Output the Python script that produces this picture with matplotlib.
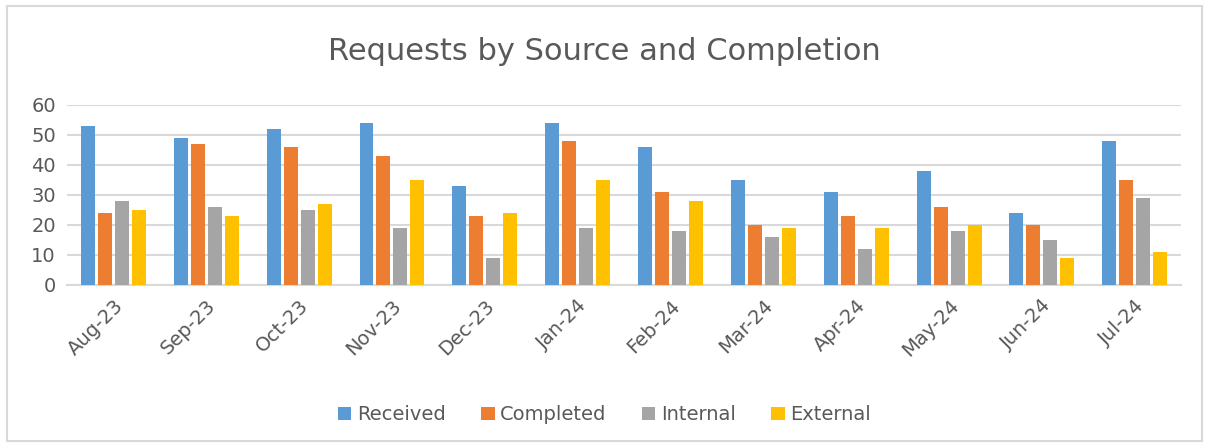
import numpy as np
import matplotlib.pyplot as plt
from matplotlib.patches import Rectangle

# Monthly request counts
months = ["Aug-23", "Sep-23", "Oct-23", "Nov-23", "Dec-23", "Jan-24",
          "Feb-24", "Mar-24", "Apr-24", "May-24", "Jun-24", "Jul-24"]
received = [53, 49, 52, 54, 33, 54, 46, 35, 31, 38, 24, 48]
completed = [24, 47, 46, 43, 23, 48, 31, 20, 23, 26, 20, 35]
internal = [28, 26, 25, 19, 9, 19, 18, 16, 12, 18, 15, 29]
external = [25, 23, 27, 35, 24, 35, 28, 19, 19, 20, 9, 11]

series = [("Received", received, "#5b9bd5"),
          ("Completed", completed, "#ed7d31"),
          ("Internal", internal, "#a5a5a5"),
          ("External", external, "#ffc000")]

text_color = "#595959"

fig = plt.figure(figsize=(12.09, 4.46), dpi=100)
ax = fig.add_axes([0.0554, 0.361, 0.9216, 0.404])

x = np.arange(len(months))
bar_w = 0.15
step = 0.183
for i, (name, vals, color) in enumerate(series):
    ax.bar(x + (i - 1.5) * step, vals, width=bar_w, color=color, label=name, zorder=3)

ax.set_xlim(-0.5, len(months) - 0.5)
ax.set_ylim(0, 60)
ax.set_yticks(range(0, 61, 10))
ax.yaxis.grid(True, color="#d9d9d9", linewidth=1.5, zorder=0)
for side in ["top", "right", "left"]:
    ax.spines[side].set_visible(False)
ax.spines["bottom"].set_color("#d9d9d9")
ax.spines["bottom"].set_linewidth(1.5)
ax.tick_params(axis="both", length=0, labelsize=14, colors=text_color, pad=8)
ax.set_xticks(x)
ax.set_xticklabels(months, rotation=45, ha="right", rotation_mode="anchor")

fig.text(0.5, 0.885, "Requests by Source and Completion", ha="center", va="center",
         fontsize=22, color=text_color)

fig.legend(loc="center", bbox_to_anchor=(0.5, 0.07), ncol=4, frameon=False,
           fontsize=14, labelcolor=text_color, handlelength=0.7, handleheight=0.7,
           handletextpad=0.3, columnspacing=1.8)

# Outer chart border
fig.patches.append(Rectangle((0.006, 0.012), 0.988, 0.974, transform=fig.transFigure,
                             fill=False, edgecolor="#d9d9d9", linewidth=1.5))

plt.savefig("out.png", dpi=100)
